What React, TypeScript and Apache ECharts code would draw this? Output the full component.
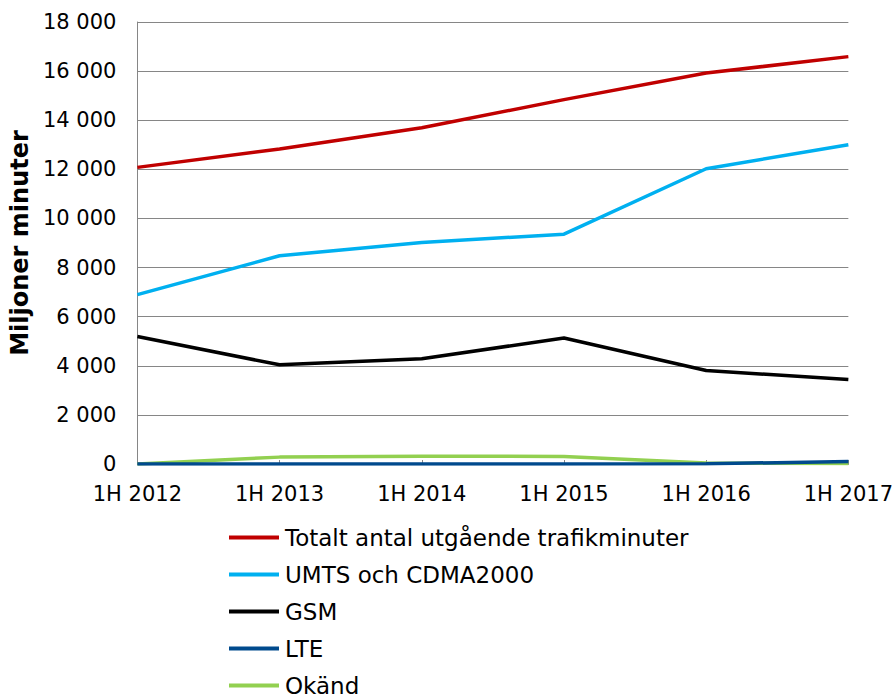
import React, { useEffect, useRef } from "react";
import * as echarts from "echarts";

const categories = ["1H 2012", "1H 2013", "1H 2014", "1H 2015", "1H 2016", "1H 2017"];
const totalt = [12080, 12830, 13690, 14840, 15920, 16590];
const umts = [6900, 8480, 9020, 9360, 12025, 13000];
const gsm = [5190, 4040, 4290, 5130, 3810, 3440];
const lte = [0, 0, 0, 0, 10, 100];
const okand = [0, 280, 320, 310, 40, 20];
const seriesNames = ["Totalt antal utgående trafikminuter", "UMTS och CDMA2000", "GSM", "LTE", "Okänd"];
const colors = ["#C00000", "#00B0F0", "#000000", "#004A8D", "#92D050"];

const FONT = "DejaVu Sans";

function fmt(v: number) {
  return String(v).replace(/\B(?=(\d{3})+(?!\d))/g, " ");
}

export default function App() {
  const ref = useRef<HTMLDivElement>(null);
  useEffect(() => {
    document.body.style.margin = "0";
    document.body.style.overflow = "hidden";
    if (!ref.current) return;
    const chart = echarts.init(ref.current, undefined, { renderer: "svg" });
    const data = [totalt, umts, gsm, lte, okand];
    chart.setOption({
      animation: false,
      textStyle: { fontFamily: FONT },
      grid: { left: 135, right: 46, top: 22, bottom: 234, containLabel: false },
      legend: {
        orient: "vertical",
        left: 224,
        top: 521,
        height: 200,
        icon: "rect",
        itemWidth: 50,
        itemHeight: 4,
        itemGap: 14,
        data: seriesNames,
        textStyle: { fontFamily: FONT, fontSize: 23, color: "#000", padding: [0, 0, 0, 1] },
      },
      xAxis: {
        type: "category",
        data: categories,
        boundaryGap: false,
        axisLine: { lineStyle: { color: "#868686", width: 1 } },
        axisTick: { show: true, inside: true, length: 4, lineStyle: { color: "#868686" } },
        axisLabel: { fontFamily: FONT, fontSize: 21, color: "#000", margin: 19 },
      },
      yAxis: {
        type: "value",
        min: 0,
        max: 18000,
        interval: 2000,
        name: "Miljoner minuter",
        nameLocation: "middle",
        nameGap: 100,
        nameTextStyle: { fontFamily: FONT, fontSize: 24, fontWeight: "bold", color: "#000" },
        axisLine: { show: true, lineStyle: { color: "#868686", width: 1 } },
        axisTick: { show: false },
        splitLine: { lineStyle: { color: "#868686", width: 1 } },
        axisLabel: { fontFamily: FONT, fontSize: 21, color: "#000", margin: 21, formatter: (v: number) => fmt(v) },
      },
      series: seriesNames.map((name, i) => ({
        name,
        type: "line",
        data: data[i],
        symbol: "none",
        color: colors[i],
        lineStyle: { color: colors[i], width: 3.5 },
        z: 10 - i,
      })),
    });
    return () => chart.dispose();
  }, []);
  return <div ref={ref} style={{ width: 896, height: 698 }} />;
}
